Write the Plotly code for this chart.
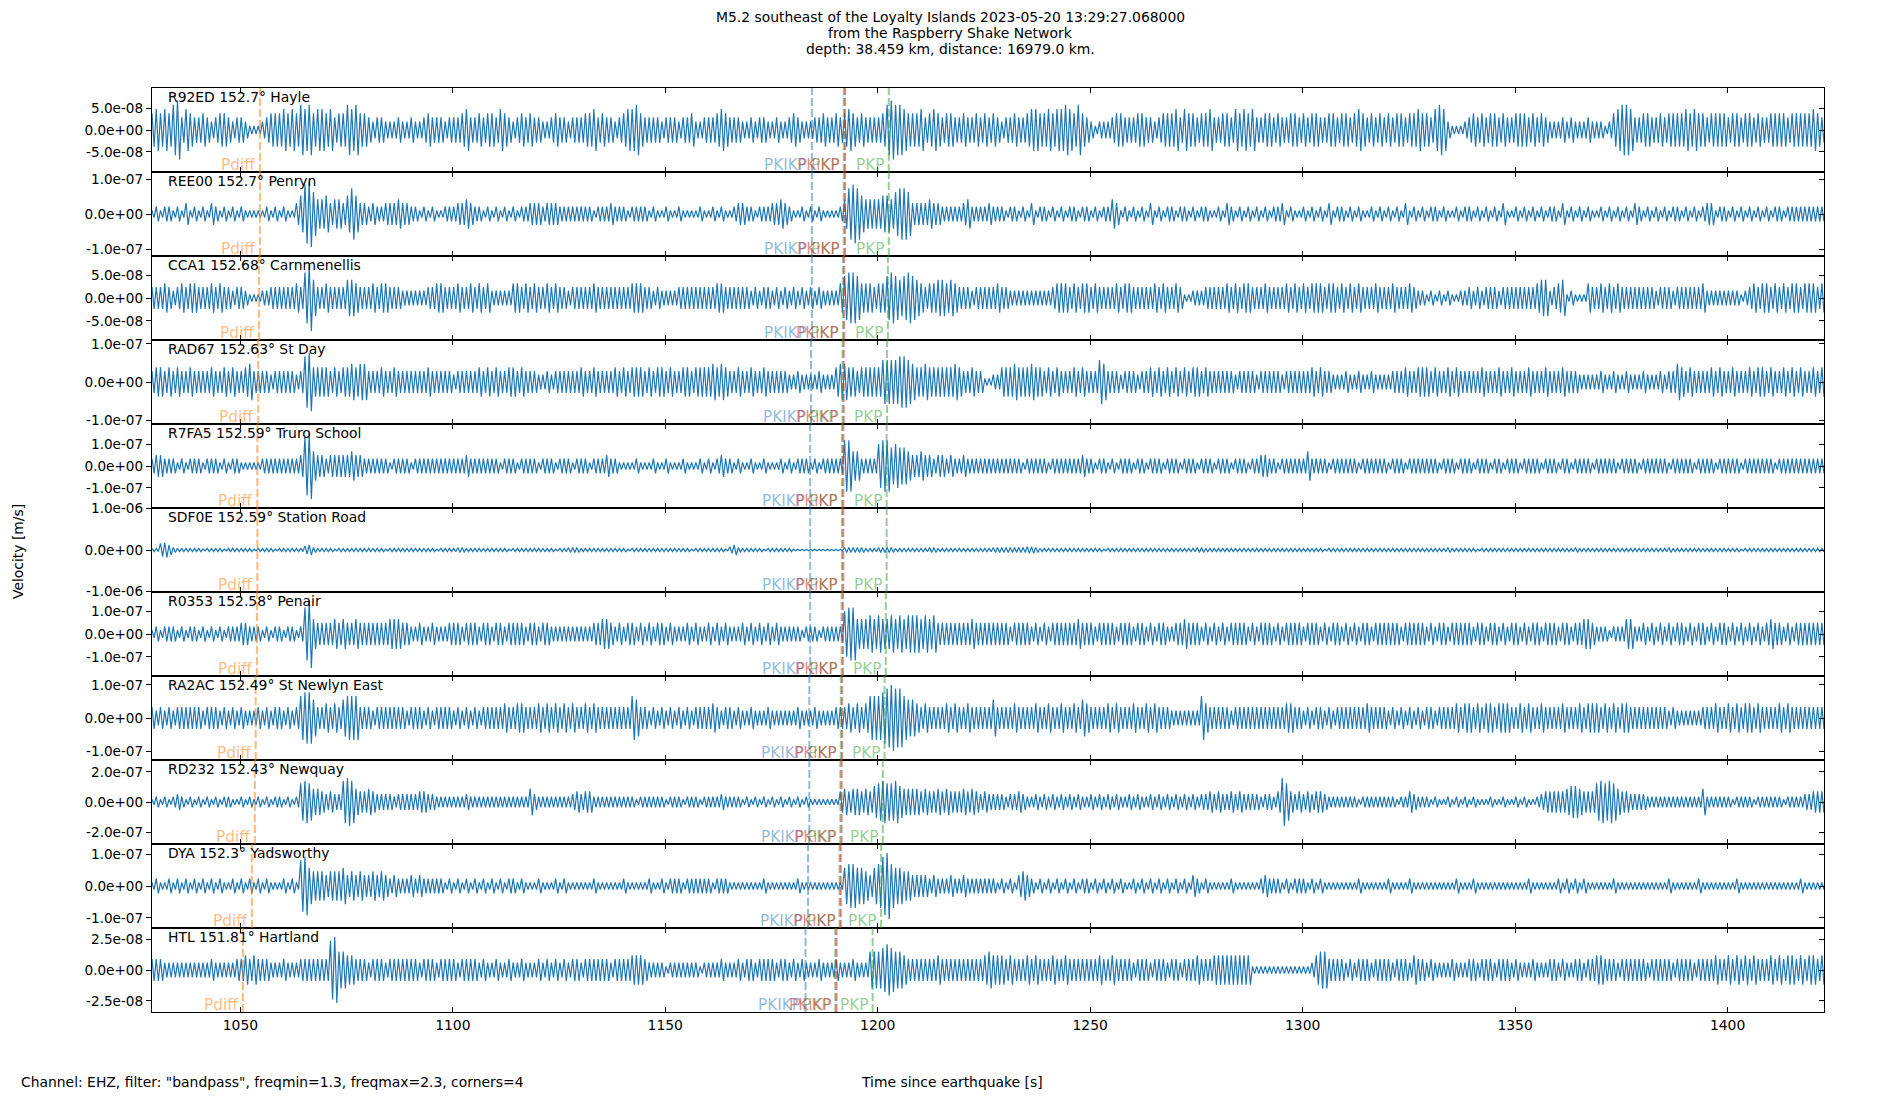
import plotly.graph_objects as go

# ---------------- data ----------------
T0 = 1029.2                      # first sample time [s]
X_RANGE = [1029.2, 1422.7]
X_TICKS = [1050, 1100, 1150, 1200, 1250, 1300, 1350, 1400]

STATION_LABELS = [
    "R92ED 152.7° Hayle", "REE00 152.7° Penryn", "CCA1 152.68° Carnmenellis",
    "RAD67 152.63° St Day", "R7FA5 152.59° Truro School", "SDF0E 152.59° Station Road",
    "R0353 152.58° Penair", "RA2AC 152.49° St Newlyn East", "RD232 152.43° Newquay",
    "DYA 152.3° Yadsworthy", "HTL 151.81° Hartland",
]
Y_HALF_RANGE = [9.6e-8, 1.2e-7, 9.2e-8, 1.1e-7, 1.91e-7, 1.01e-6, 1.84e-7, 1.27e-7, 2.79e-7, 1.32e-7, 3.41e-8]
Y_TICK_STEP = [5e-8, 1e-7, 5e-8, 1e-7, 1e-7, 1e-6, 1e-7, 1e-7, 2e-7, 1e-7, 2.5e-8]
Y_TICK_TEXT = [
    ["-5.0e-08", "0.0e+00", "5.0e-08"], ["-1.0e-07", "0.0e+00", "1.0e-07"],
    ["-5.0e-08", "0.0e+00", "5.0e-08"], ["-1.0e-07", "0.0e+00", "1.0e-07"],
    ["-1.0e-07", "0.0e+00", "1.0e-07"], ["-1.0e-06", "0.0e+00", "1.0e-06"],
    ["-1.0e-07", "0.0e+00", "1.0e-07"], ["-1.0e-07", "0.0e+00", "1.0e-07"],
    ["-2.0e-07", "0.0e+00", "2.0e-07"], ["-1.0e-07", "0.0e+00", "1.0e-07"],
    ["-2.5e-08", "0.0e+00", "2.5e-08"],
]
# velocity of one envelope step for each station [m/s]
AMP_UNIT = [9.6e-9, 1.05e-8, 8.0e-9, 9.6e-9, 1.67e-8, 2.0e-8, 1.65e-8, 1.11e-8, 1.77e-8, 1.15e-8, 2.98e-9]

# phase arrival times per station [s]
T_PDIFF = [1054.6, 1054.6, 1054.4, 1054.2, 1054.0, 1054.0, 1053.9, 1053.6, 1053.4, 1052.7, 1050.6]
T_PKIKP = [1184.5, 1184.5, 1184.5, 1184.3, 1184.1, 1184.1, 1184.1, 1183.9, 1183.9, 1183.6, 1183.0]
T_PKiKP = [1192.3, 1192.3, 1192.1, 1192.0, 1191.9, 1191.9, 1191.8, 1191.6, 1191.5, 1191.3, 1190.3]
T_PKP_A = [1192.0, 1192.0, 1191.8, 1191.7, 1191.6, 1191.6, 1191.5, 1191.3, 1191.2, 1191.0, 1190.0]
T_PKP_B = [1202.6, 1202.6, 1202.4, 1202.2, 1202.1, 1202.1, 1201.9, 1201.6, 1201.2, 1200.8, 1198.8]

# per-second peak amplitude (in AMP_UNIT steps), 10 s per group
ENV_R92ED = ("4545467354 3343234432 3321112344 4545465645 5453446564 4323322232 2322343332 3334533434 "
             "4354323434 3322343323 3344534332 3455643333 2333233422 3334543332 2323322322 3432223343 "
             "3434543433 3346766544 4534543443 3433434343 2334334554 4545565464 3212223443 3344332344 "
             "4535443445 3344354545 3344343344 3434433443 4434543434 3434434454 4356521112 3434344343 "
             "3444343432 2232322232 2212456653 3443343444 4545443444 4344344343 3444434444 4543")
ENV_REE00 = ("1212212131 2121321212 1211111212 1211358964 4534435753 3232233343 3221212112 2233432212 "
             "1212121223 3323332222 2222122232 2212222121 1211211112 1121211233 2212223343 2112121211 "
             "1124787544 4455467763 3334332222 2342222322 2122121312 2121212212 2121224312 1212131212 "
             "2122121221 1213212121 2121223121 1212121312 2121211212 1212131212 1221211212 2121212131 "
             "1212121212 2131212121 1212121213 2121212122 1212123312 2121212121 2122122222 2222")
ENV_CCA1 = ("3334323434 4333434332 3321112233 3333437953 3433335543 3343443332 2222233443 3343343434 "
            "2222244343 4334343323 3333433333 3334443323 2222333333 3334433333 3232332323 2323232322 "
            "2246776444 3446765676 5434455454 3332333334 3322222222 2234443434 4343333434 4333334343 "
            "3431122233 3334343443 3343333434 3434443443 4343433343 3343334322 1212121122 3232333233 "
            "3333334552 3451211143 3434343333 3333233323 3333342222 2222123434 4343434434 4434")
ENV_RAD67 = ("3443434334 3333433434 3345333323 3333237844 4434344545 5333433433 3333343333 3233333434 "
             "3433443433 3223233333 3433433334 3434443434 4343344344 4454543343 3433433333 2232222322 "
             "2455443444 4466667765 4454444445 4334331122 4445444544 3434333434 3336533323 3323343434 "
             "3434344343 3333323333 2333332333 3334343322 2322322322 2233343344 4343343433 3334333433 "
             "4333433343 3343332222 2322322322 2322232335 4343333434 3343334344 3433434343 3434")
ENV_R7FA5 = ("2332221212 2212221212 2111112222 2222238943 3233333433 2222221222 2122222222 2222322222 "
             "2212221222 2122212221 2221222322 1111211121 1211121112 1212322121 1211211121 2122212122 "
             "2227744222 2677565543 3433233232 2322222222 2222212222 2122222223 2212212122 2122122212 "
             "2212221222 1222122212 2332212222 2242222122 2222122222 2122212222 2221222122 2122212212 "
             "2212222122 2122122221 2222212222 1222222122 2221222212 2222122222 2212222222 2222")
ENV_SDF0E = ("2289632222 2212222122 2222122221 2222225632 2221222222 2222212222 2222222122 2233222222 "
             "2222122222 2222212233 3222222222 2212222222 2222222122 2222214632 2222122222 2111111111 "
             "1113333322 2333322222 2223322222 2222222233 3333334432 2222222222 2222122222 2222222222 "
             "2222223322 2222222222 2222222222 2222221222 2222222222 2222222222 2222232222 2212222222 "
             "2222222222 2222232222 2222222222 2222222322 2222222222 2222122222 2222222222 2222")
ENV_R0353 = ("1212221212 2121212122 2332221212 2122127943 3334343343 3333334443 3223223222 3332333233 "
             "2332333323 3233222222 2222334432 3233232323 3232223232 2323232223 2323232322 2221222122 "
             "2226774445 4544545455 5454533333 3334333333 3323333232 3233333343 3323333233 3233232332 "
             "2334333232 3232333323 2333232333 3233323233 2323233233 3333233333 2323323333 3233233232 "
             "3323233233 3233233443 2221222442 2323232323 3232332323 3232323232 3433232333 3333")
ENV_RA2AC = ("3232323333 3323332323 2322232323 3232367753 3434356663 3323333333 2333232333 3232323233 "
             "3334334433 3434343434 3343433333 3336533232 3232323233 3343233232 2322232222 2232223222 "
             "2333434346 6678988655 4343333434 3343333353 3334333343 3433433435 4333343433 3433434333 "
             "2222222643 3333233333 3333333443 3232332323 3333334333 3232323232 3323333434 4343443444 "
             "3343433433 3343334344 4343434433 3333333232 2222233343 3434344343 3334343333 3333")
ENV_RD232 = ("1212123212 1212121221 1212121212 2121278755 4343389854 4543333233 3334433222 2222322222 "
             "2222222225 3222222223 4344222222 2222122222 2122212221 2222322221 2121212121 2121211111 "
             "1145455454 6787786555 5454454544 4545434333 3233432232 3232323232 2323232322 3232232323 "
             "2323232334 3433434333 3233249743 4343443222 2222122222 2221224322 2121121212 1211121121 "
             "1212112344 4445665444 7878754433 3322222222 2222252222 2212222122 2222122223 3444")
ENV_DYA = ("1211212121 2121212112 1212121211 1212178544 4344453434 3343432322 2323222221 2121212121 "
           "2121221211 1211121211 1111211111 1211111211 2122212222 2212221111 1111211111 1121111111 "
           "1115665543 5689655443 3332322232 2322222221 2121343212 1212121212 2121212121 1212121212 "
           "1212132121 1111211111 1232221212 2212121111 1111211111 1211112111 1111111211 1211111111 "
           "1111211111 1212121211 1111211111 1111111211 1111211111 1112111111 1111111121 1111")
ENV_HTL = ("3332222222 2222322222 3343433322 2322233333 3389554433 3233323333 3332333233 3323333232 "
           "2322322322 2323232323 3233333323 3334443222 2122222221 2222322232 3323333233 2323222322 "
           "2322232225 5567655433 3333343333 3333334544 4343334343 3343343333 3334334333 3233323332 "
           "3323334333 4444444441 1111111111 1112455333 3232333233 3323332433 2322223222 3323332333 "
           "2322232223 3232233233 4433323333 3323333323 3332333343 3434343433 3434344343 4434")
ENVELOPES = [ENV_R92ED, ENV_REE00, ENV_CCA1, ENV_RAD67, ENV_R7FA5, ENV_SDF0E,
             ENV_R0353, ENV_RA2AC, ENV_RD232, ENV_DYA, ENV_HTL]

TITLE_LINES = ["M5.2 southeast of the Loyalty Islands 2023-05-20 13:29:27.068000",
               "from the Raspberry Shake Network",
               "depth: 38.459 km, distance: 16979.0 km."]

# ---------------- styling ----------------
W, H = 1900, 1100
ML, MR, MT, MB = 152, 76, 88, 88
PW, PH = W - ML - MR, H - MT - MB
FONT = "DejaVu Sans"
TRACE_COLOR = "#1f77b4"
PHASE_STYLE = [  # (label, times, rgba)
    ("Pdiff", T_PDIFF, "rgba(255,127,14,0.55)"),
    ("PKIKP", T_PKIKP, "rgba(31,119,180,0.5)"),
    ("PKP", T_PKP_A, "rgba(44,160,44,0.5)"),
    ("PKiKP", T_PKiKP, "rgba(214,39,40,0.55)"),
    ("PKP", T_PKP_B, "rgba(44,160,44,0.5)"),
]
N = len(ENVELOPES)


def px_to_paper_x(px):
    return (px - ML) / PW


def px_to_paper_y(py):
    return (H - MB - py) / PH


fig = go.Figure()
layout = dict(
    width=W, height=H, margin=dict(l=ML, r=MR, t=MT, b=MB),
    paper_bgcolor="white", plot_bgcolor="white", showlegend=False,
    font=dict(family=FONT, size=13.9, color="black"),
)
annotations = []
shapes = []

for i in range(N):
    xn = "x" if i == 0 else f"x{i+1}"
    yn = "y" if i == 0 else f"y{i+1}"
    yr = f"y{N+1+i}"
    # trace: min/max pairs per second built from the read envelope
    vals = [int(c) for c in ENVELOPES[i] if c.isdigit()]
    xs, ys = [], []
    for k, v in enumerate(vals):
        xs += [T0 + k, T0 + k + 0.5]
        ys += [v * AMP_UNIT[i], -v * AMP_UNIT[i]]
    fig.add_trace(go.Scatter(x=xs, y=ys, mode="lines", xaxis=xn, yaxis=yn,
                             line=dict(color=TRACE_COLOR, width=1.2), hoverinfo="skip"))
    fig.add_trace(go.Scatter(x=[X_RANGE[0]], y=[0], mode="markers", xaxis=xn, yaxis=yr,
                             marker=dict(size=1, opacity=0), hoverinfo="skip"))

    dom = [1 - (i + 1) / N, 1 - i / N]
    h = Y_HALF_RANGE[i]
    s = Y_TICK_STEP[i]
    layout["xaxis" if i == 0 else f"xaxis{i+1}"] = dict(
        domain=[0, 1], anchor=yn, range=X_RANGE, tickvals=X_TICKS,
        ticks="inside", ticklen=5, tickwidth=1, tickcolor="black", mirror="ticks",
        showline=True, linecolor="black", linewidth=1.2, showgrid=False, zeroline=False,
        showticklabels=(i == N - 1), tickfont=dict(family=FONT, size=13.9, color="black"),
        matches=None if i == 0 else "x",
    )
    layout["yaxis" if i == 0 else f"yaxis{i+1}"] = dict(
        domain=dom, anchor=xn, range=[-h, h], tickvals=[-s, 0, s], ticktext=Y_TICK_TEXT[i],
        ticks="outside", ticklen=5, tickwidth=1, tickcolor="black",
        showline=True, mirror=True, linecolor="black", linewidth=1.2,
        showgrid=False, zeroline=False, tickfont=dict(family=FONT, size=13.6, color="black"),
    )
    layout[f"yaxis{N+1+i}"] = dict(
        overlaying=yn, side="right", anchor=xn, range=[-h, h], tickvals=[-s, 0, s],
        ticks="inside", ticklen=5, tickwidth=1, tickcolor="black",
        showticklabels=False, showline=False, showgrid=False, zeroline=False,
    )

    annotations.append(dict(
        text=STATION_LABELS[i], xref=f"{xn} domain", yref=f"{yn} domain",
        x=0, y=1, xanchor="left", yanchor="top", xshift=15, yshift=0,
        showarrow=False, borderpad=0, font=dict(family=FONT, size=13.9, color="black")))

    for label, times, col in PHASE_STYLE:
        t = times[i]
        shapes.append(dict(type="line", xref=xn, yref=f"{yn} domain",
                           x0=t, x1=t, y0=0, y1=1,
                           line=dict(color=col, width=2, dash="8px,3px")))
        annotations.append(dict(
            text=label, xref=xn, yref=f"{yn} domain", x=t, y=0,
            xanchor="right", yanchor="bottom", xshift=-4, yshift=-3,
            showarrow=False, borderpad=0, font=dict(family=FONT, size=15.3, color=col)))

# title lines
for txt, py in zip(TITLE_LINES, [17, 33, 49]):
    annotations.append(dict(text=txt, xref="paper", yref="paper",
                            x=px_to_paper_x(950), y=px_to_paper_y(py),
                            xanchor="center", yanchor="middle", showarrow=False,
                            font=dict(family=FONT, size=13.9, color="black")))
# axis titles and footer
annotations.append(dict(text="Time since earthquake [s]", xref="paper", yref="paper",
                        x=px_to_paper_x(952), y=px_to_paper_y(1082),
                        xanchor="center", yanchor="middle", showarrow=False))
annotations.append(dict(text='Channel: EHZ, filter: "bandpass", freqmin=1.3, freqmax=2.3, corners=4',
                        xref="paper", yref="paper",
                        x=px_to_paper_x(19), y=px_to_paper_y(1082),
                        xanchor="left", yanchor="middle", showarrow=False))
annotations.append(dict(text="Velocity [m/s]", xref="paper", yref="paper",
                        x=px_to_paper_x(18), y=px_to_paper_y(552), textangle=-90,
                        xanchor="center", yanchor="middle", showarrow=False))

layout["annotations"] = annotations
layout["shapes"] = shapes
fig.update_layout(**layout)
fig.write_html("out.html", config={"displayModeBar": False},
               post_script="document.body.style.margin='0';")
